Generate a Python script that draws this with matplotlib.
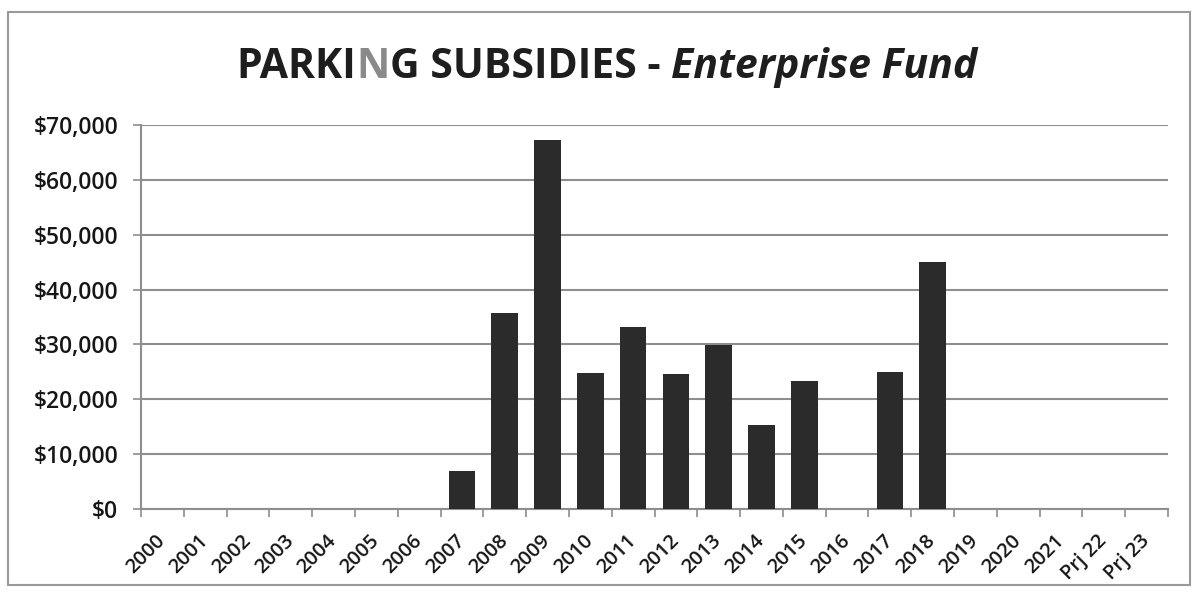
import matplotlib
matplotlib.use("Agg")
import matplotlib.pyplot as plt
from matplotlib.patches import Rectangle
from matplotlib.ticker import FuncFormatter, FixedLocator
import numpy as np

plt.rcParams['font.family'] = ['Open Sans', 'DejaVu Sans']

# Fiscal years (plus projections) and annual parking subsidy amounts
years = ["2000", "2001", "2002", "2003", "2004", "2005", "2006", "2007",
         "2008", "2009", "2010", "2011", "2012", "2013", "2014", "2015",
         "2016", "2017", "2018", "2019", "2020", "2021", "Prj 22", "Prj 23"]
subsidies = [0, 0, 0, 0, 0, 0, 0, 7000,
             35800, 67200, 24800, 33200, 24700, 29900, 15400, 23300,
             0, 24900, 45000, 0, 0, 0, 0, 0]
y_ticks = [0, 10000, 20000, 30000, 40000, 50000, 60000, 70000]

W, H = 1194, 592
fig = plt.figure(figsize=(W / 100, H / 100), dpi=100)
fig.patch.set_facecolor("white")

# Plot area in pixel terms
left_px, right_px = 141, 1168
top_px, bottom_px = 125, 509
ax = fig.add_axes([left_px / W, 1 - bottom_px / H,
                   (right_px - left_px) / W, (bottom_px - top_px) / H])

grid_col = "#8e8e8e"
bar_col = "#2b2b2b"
text_col = "#161616"

x = np.arange(len(years))
ax.bar(x, subsidies, width=0.62, color=bar_col, zorder=3)

ax.set_xlim(-0.5, len(years) - 0.5)
ax.set_ylim(0, 70000)

# Y axis: dollar ticks with horizontal grid lines
ax.set_yticks(y_ticks)
ax.yaxis.set_major_formatter(FuncFormatter(lambda v, p: f"${v:,.0f}"))
ax.grid(axis="y", color=grid_col, linewidth=1.5, zorder=0)
ax.tick_params(axis="y", length=5.5, width=1.2, color=grid_col, pad=11,
               labelsize=16.5, labelcolor=text_col)
for lbl in ax.get_yticklabels():
    lbl.set_fontweight(600)

# X axis: labels centred on bars, tick marks between categories
ax.set_xticks(x)
ax.set_xticklabels(years)
ax.xaxis.set_minor_locator(FixedLocator(np.arange(-0.5, len(years), 1.0)))
ax.tick_params(axis="x", which="major", length=0, pad=21,
               labelsize=14.5, labelcolor=text_col)
ax.tick_params(axis="x", which="minor", length=5.5, width=1.2, color=grid_col)
for lbl in ax.get_xticklabels():
    lbl.set_rotation(45)
    lbl.set_ha("right")
    lbl.set_va("center")
    lbl.set_rotation_mode("anchor")
    lbl.set_fontweight(600)

for side in ("top", "right"):
    ax.spines[side].set_visible(False)
for side in ("left", "bottom"):
    ax.spines[side].set_color(grid_col)
    ax.spines[side].set_linewidth(1.5)

# Outer chart frame
fig.patches.append(Rectangle((8 / W, 1 - 585 / H), (1190 - 8) / W, (585 - 12) / H,
                             transform=fig.transFigure, fill=False,
                             edgecolor="#9a9a9a", linewidth=1.5))

# Title made of mixed-style runs, centred as one line
runs = [("PARKI", "bold", "normal", "#1e1e1e"),
        ("N", "bold", "normal", "#8a8a8a"),
        ("G SUBSIDIES - ", "bold", "normal", "#1e1e1e"),
        ("Enterprise Fund", "bold", "italic", "#1e1e1e")]
title_size = 29.5
title_cx, title_cy = 607 / W, 1 - 68 / H
renderer = fig.canvas.get_renderer()
texts = []
for s, weight, style, col in runs:
    t = fig.text(0, title_cy, s, fontsize=title_size, fontweight=weight,
                 fontstyle=style, color=col, ha="left", va="center")
    texts.append(t)
widths = [t.get_window_extent(renderer).width / W for t in texts]
xpos = title_cx - sum(widths) / 2
for t, w in zip(texts, widths):
    t.set_x(xpos)
    xpos += w

fig.savefig("out.png", dpi=100, facecolor="white")
